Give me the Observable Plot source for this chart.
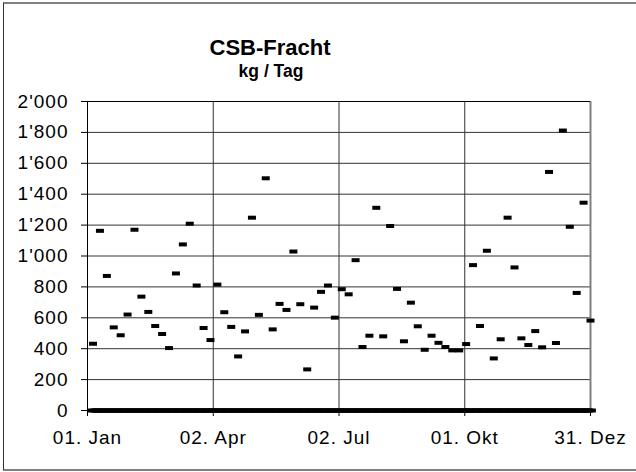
<!DOCTYPE html>
<html>
<head>
<meta charset="utf-8">
<script src="https://cdn.jsdelivr.net/npm/d3@7"></script>
<script src="https://cdn.jsdelivr.net/npm/@observablehq/plot@0.6"></script>
<style>
  html, body { margin: 0; padding: 0; background: #fff; overflow: hidden; }
  #wrap { position: relative; width: 636px; height: 472px; }
  #frame { position: absolute; left: 3px; top: 2px; width: 640px; height: 465px;
           border-left: 1px solid #333; border-top: 2px solid #808080; border-bottom: 2px solid #808080; }
  #chart { position: absolute; left: 0; top: 0; }
  #chart g[aria-label$="tick label"] text { letter-spacing: 1px; }
</style>
</head>
<body>
<div id="wrap"><div id="frame"></div><div id="chart"></div></div>
<script>
// ---- data ----
const titleText = "CSB-Fracht";
const subtitleText = "kg / Tag";
const sampleStart = "2001-01-05";      // first sampled day
const sampleEveryDays = 5;             // sampling interval
const csbLoad = [
  432, 1163, 871, 538, 487, 621, 1170, 737, 638, 547, 495, 404, 887, 1075, 1209, 809,
  534, 456, 815, 636, 541, 350, 512, 1248, 619, 1503, 525, 690, 651, 1029, 688, 266,
  666, 768, 809, 601, 785, 752, 973, 411, 484, 1312, 480, 1194, 787, 448, 698, 545,
  393, 484, 438, 411, 389, 389, 430, 941, 547, 1034, 337, 461, 1248, 926, 467, 424,
  514, 409, 1544, 437, 1812, 1189, 761, 1345, 582
];
const dailyStart = "2001-01-04";       // daily series (non-sampled days = 0)
const dailyEnd = "2002-01-01";
const xDomain = ["2001-01-01", "2001-12-31"];
const xTickDates = ["2001-01-01", "2001-04-02", "2001-07-02", "2001-10-01", "2001-12-31"];
const xTickLabels = ["01. Jan", "02. Apr", "02. Jul", "01. Okt", "31. Dez"];
const yTicks = [0, 200, 400, 600, 800, 1000, 1200, 1400, 1600, 1800, 2000];

// ---- build ----
const sampleDates = csbLoad.map((v, i) => d3.utcDay.offset(new Date(sampleStart), i * sampleEveryDays));
const sampleMap = new Map(sampleDates.map((d, i) => [+d, csbLoad[i]]));
const daily = d3.utcDays(new Date(dailyStart), d3.utcDay.offset(new Date(dailyEnd), 1))
  .map(d => ({date: d, value: sampleMap.has(+d) ? sampleMap.get(+d) : 0}));

const fmt = d3.formatLocale({decimal: ".", thousands: "'", grouping: [3], currency: ["", ""]}).format(",");
const xDates = xTickDates.map(d => new Date(d));
const labelOf = new Map(xDates.map((d, i) => [+d, xTickLabels[i]]));

const dash = { draw(ctx) { ctx.moveTo(-4, -2); ctx.lineTo(4, -2); ctx.lineTo(4, 2); ctx.lineTo(-4, 2); ctx.closePath(); } };

const chart = Plot.plot({
  width: 636,
  height: 472,
  marginLeft: 87,
  marginRight: 46,
  marginTop: 101,
  marginBottom: 62,
  style: {fontFamily: "'Liberation Sans', Arial, sans-serif", color: "#000", background: "transparent"},
  x: {type: "utc", domain: xDomain.map(d => new Date(d))},
  y: {domain: [0, 2000]},
  marks: [
    Plot.ruleY(yTicks.slice(1), {stroke: "#333", strokeWidth: 1}),
    Plot.ruleX(xDates.slice(1, -1), {stroke: "#333", strokeWidth: 1}),
    Plot.ruleX([xDates[xDates.length - 1]], {stroke: "#808080", strokeWidth: 2}),
    Plot.ruleY([2000], {stroke: "#000"}),
    Plot.axisY({ticks: yTicks, tickFormat: fmt, tickSize: 6, tickPadding: 13, fontSize: 19, label: null}),
    Plot.axisX({ticks: xDates, tickFormat: d => labelOf.get(+d), tickSize: 6, tickPadding: 14, fontSize: 19, label: null}),
    Plot.ruleX([xDates[0]], {stroke: "#000"}),
    Plot.ruleY([0], {stroke: "#000"}),
    Plot.dot(daily, {x: "date", y: "value", symbol: dash, fill: "#000", stroke: "none"}),
    Plot.text([titleText], {frameAnchor: "top", dx: -69, dy: -47, lineAnchor: "bottom", fontWeight: "bold", fontSize: 22}),
    Plot.text([subtitleText], {frameAnchor: "top", dx: -68, dy: -25, lineAnchor: "bottom", fontWeight: "bold", fontSize: 17.5})
  ]
});
document.getElementById("chart").appendChild(chart);
</script>
</body>
</html>
